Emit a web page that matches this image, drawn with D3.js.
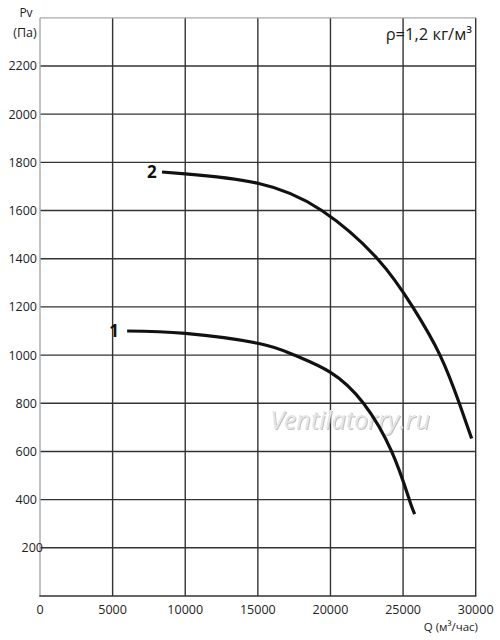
<!DOCTYPE html>
<html><head><meta charset="utf-8">
<script src="https://cdn.jsdelivr.net/npm/d3@7"></script>
<style>body{margin:0;background:#fff}svg{display:block}text{font-family:"Open Sans",sans-serif}</style>
</head><body><svg id="c" width="500" height="640"></svg>
<script>
const xTicks = [0,5000,10000,15000,20000,25000,30000];
const yTicks = [200,400,600,800,1000,1200,1400,1600,1800,2000,2200];
const curve1 = [[6000,1100],[10000,1090],[15000,1049],[17500,1000],[20000,928],[22270,800],[24210,600],[25430,400],[25800,340]];
const curve2 = [[8400,1760],[10000,1752],[15000,1713],[19400,1600],[23230,1400],[25660,1200],[27540,1000],[28870,800],[29720,654]];
const curveLabels = [{t:"1",q:5100,p:1100},{t:"2",q:7700,p:1760}];

const svg = d3.select("#c");
const x = d3.scaleLinear().domain([0,30000]).range([40,475.7]);
const y = d3.scaleLinear().domain([0,2400]).range([596,17.8]);

// grid
svg.append("g").selectAll("line").data(yTicks).join("line")
  .attr("x1",x(0)).attr("x2",x(30000)).attr("y1",d=>y(d)).attr("y2",d=>y(d))
  .attr("stroke","#333").attr("stroke-width",1.4);
svg.append("g").selectAll("line").data(xTicks.slice(1)).join("line")
  .attr("x1",d=>x(d)).attr("x2",d=>x(d)).attr("y1",y(2400)).attr("y2",y(0))
  .attr("stroke","#333").attr("stroke-width",1.4);
// borders
svg.append("line").attr("x1",x(0)).attr("x2",x(30000)).attr("y1",y(2400)).attr("y2",y(2400)).attr("stroke","#aaa").attr("stroke-width",1.2);
svg.append("line").attr("x1",x(0)).attr("x2",x(0)).attr("y1",y(2400)).attr("y2",y(0)).attr("stroke","#aaa").attr("stroke-width",1.4);
svg.append("line").attr("x1",x(0)-0.7).attr("x2",x(30000)+0.7).attr("y1",y(0)).attr("y2",y(0)).attr("stroke","#333").attr("stroke-width",1.6);

// watermark
const defs = svg.append("defs");
const f = defs.append("filter").attr("id","sh");
f.append("feDropShadow").attr("dx",1).attr("dy",1).attr("stdDeviation",0.6).attr("flood-color","#999").attr("flood-opacity",0.6);
svg.append("text").attr("x",350).attr("y",429).attr("text-anchor","middle")
  .attr("font-size",25).attr("font-style","italic").attr("fill","#e6e6e6").attr("filter","url(#sh)")
  .attr("font-family","'DejaVu Serif','Liberation Serif',serif")
  .text("Ventilatorry.ru");

// curves
const line = d3.line().x(d=>x(d[0])).y(d=>y(d[1])).curve(d3.curveNatural);
[curve1,curve2].forEach(c=>svg.append("path").attr("d",line(c)).attr("fill","none").attr("stroke","#111").attr("stroke-width",3.2).attr("stroke-linecap","butt"));

svg.selectAll(".cl").data(curveLabels).join("text").attr("class","cl")
  .attr("x",d=>x(d.q)).attr("y",d=>y(d.p)+6).attr("text-anchor","middle")
  .attr("font-size",17).attr("font-weight","bold").attr("fill","#111").text(d=>d.t);

// y tick labels
svg.append("g").selectAll("text").data(yTicks).join("text")
  .attr("x",d=>d===200?43:37).attr("y",d=>y(d)+4.5).attr("text-anchor","end")
  .attr("font-size",12.5).attr("fill","#222").text(d=>d);
// x tick labels
svg.append("g").selectAll("text").data(xTicks).join("text")
  .attr("x",d=>x(d)).attr("y",614).attr("text-anchor","middle")
  .attr("font-size",12.5).attr("fill","#222").text(d=>d);

svg.append("text").attr("x",478).attr("y",631).attr("text-anchor","end").attr("font-size",11.5).attr("fill","#222").text("Q (м³/час)");
svg.append("text").attr("x",26).attr("y",17).attr("text-anchor","middle").attr("font-size",12).attr("fill","#222").text("Pv");
svg.append("text").attr("x",25).attr("y",37).attr("text-anchor","middle").attr("font-size",12.5).attr("fill","#222").text("(Па)");
svg.append("text").attr("x",472).attr("y",40).attr("text-anchor","end").attr("font-size",16.5).attr("fill","#222").text("ρ=1,2 кг/м³");
</script></body></html>
